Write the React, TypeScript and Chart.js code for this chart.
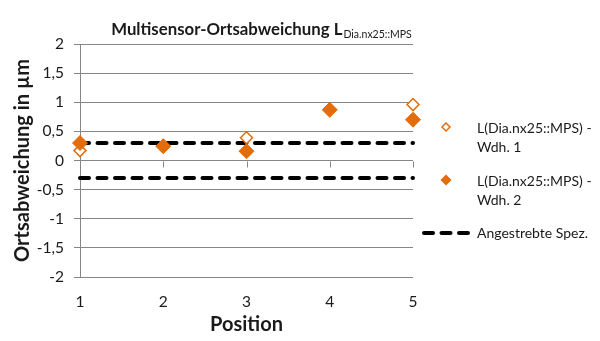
import React, { useEffect, useRef } from "react";
import { Chart, registerables } from "chart.js";
Chart.register(...registerables);

const positions = [1, 2, 3, 4, 5];
const wdh1 = [0.17, 0.25, 0.39, 0.87, 0.96];
const wdh2 = [0.3, 0.245, 0.16, 0.87, 0.7];
const specX = [1, 5];
const specUpper = [0.3, 0.3];
const specLower = [-0.3, -0.3];
const titleMain = "Multisensor-Ortsabweichung L";
const titleSub = "Dia.nx25::MPS";
const legendLabels = [
  ["L(Dia.nx25::MPS) -", "Wdh. 1"],
  ["L(Dia.nx25::MPS) -", "Wdh. 2"],
  ["Angestrebte Spez."],
];
const yTitle = "Ortsabweichung in µm";
const xTitle = "Position";

const ORANGE = "#E46C0A";
const GRID = "#868686";
const TEXT = "#1a1a1a";
const FONT = "Lato, 'Open Sans', sans-serif";

const decor = {
  id: "decor",
  afterDraw(chart: any) {
    const ctx = chart.ctx as CanvasRenderingContext2D;
    const xs = chart.scales.x;
    const ys = chart.scales.y;
    ctx.save();
    // x-axis tick marks on the zero line
    ctx.strokeStyle = GRID;
    ctx.lineWidth = 1;
    const y0 = Math.round(ys.getPixelForValue(0)) + 0.5;
    positions.forEach((p) => {
      const px = Math.round(xs.getPixelForValue(p)) + 0.5;
      ctx.beginPath();
      ctx.moveTo(px, y0);
      ctx.lineTo(px, y0 + 6);
      ctx.stroke();
    });
    // title with subscript
    ctx.fillStyle = TEXT;
    ctx.textBaseline = "alphabetic";
    ctx.textAlign = "left";
    const mainFont = `bold 16.8px ${FONT}`;
    const subFont = `10.5px ${FONT}`;
    ctx.font = mainFont;
    const wMain = ctx.measureText(titleMain).width;
    ctx.font = subFont;
    const wSub = ctx.measureText(titleSub).width;
    const cx = 261;
    const tx = cx - (wMain + wSub) / 2;
    ctx.font = mainFont;
    ctx.fillText(titleMain, tx, 35);
    ctx.font = subFont;
    ctx.fillText(titleSub, tx + wMain + 1, 38);

    // legend
    ctx.font = `14px ${FONT}`;
    ctx.textBaseline = "middle";
    const textX = 477;
    const drawDiamond = (x: number, y: number, r: number, fill: string | null) => {
      ctx.beginPath();
      ctx.moveTo(x, y - r);
      ctx.lineTo(x + r, y);
      ctx.lineTo(x, y + r);
      ctx.lineTo(x - r, y);
      ctx.closePath();
      if (fill) {
        ctx.fillStyle = fill;
        ctx.fill();
      }
      ctx.strokeStyle = ORANGE;
      ctx.lineWidth = 1.5;
      ctx.stroke();
    };
    drawDiamond(446, 127, 4, "#ffffff");
    drawDiamond(446, 180, 4.5, ORANGE);
    ctx.fillStyle = TEXT;
    ctx.fillText(legendLabels[0][0], textX, 128);
    ctx.fillText(legendLabels[0][1], textX, 147);
    ctx.fillText(legendLabels[1][0], textX, 181);
    ctx.fillText(legendLabels[1][1], textX, 200);
    ctx.fillText(legendLabels[2][0], textX, 233);
    ctx.strokeStyle = "#000";
    ctx.lineWidth = 4;
    ctx.lineCap = "round";
    ctx.setLineDash([9, 8.5]);
    ctx.beginPath();
    ctx.moveTo(424, 233);
    ctx.lineTo(468, 233);
    ctx.stroke();
    ctx.restore();
  },
};

export default function App() {
  const ref = useRef<HTMLCanvasElement | null>(null);
  useEffect(() => {
    document.body.style.margin = "0";
    const canvas = ref.current;
    if (!canvas) return;
    const chart = new Chart(canvas, {
      type: "scatter",
      data: {
        datasets: [
          {
            label: "L(Dia.nx25::MPS) - Wdh. 2",
            data: positions.map((p, i) => ({ x: p, y: wdh2[i] })),
            pointStyle: "rectRot",
            pointRadius: 7.5,
            backgroundColor: ORANGE,
            borderColor: ORANGE,
            borderWidth: 1,
            showLine: false,
            clip: false,
          },
          {
            label: "L(Dia.nx25::MPS) - Wdh. 1",
            data: positions.map((p, i) => ({ x: p, y: wdh1[i] })),
            pointStyle: "rectRot",
            pointRadius: 6,
            backgroundColor: "#ffffff",
            borderColor: ORANGE,
            borderWidth: 1.5,
            showLine: false,
            clip: false,
          },
          {
            label: "Angestrebte Spez.",
            data: specX.map((p, i) => ({ x: p, y: specUpper[i] })),
            showLine: true,
            pointRadius: 0,
            borderColor: "#000",
            borderWidth: 4,
            borderDash: [9, 8.5],
            borderCapStyle: "round",
            clip: false,
          },
          {
            label: "Angestrebte Spez. (unten)",
            data: specX.map((p, i) => ({ x: p, y: specLower[i] })),
            showLine: true,
            pointRadius: 0,
            borderColor: "#000",
            borderWidth: 4,
            borderDash: [9, 8.5],
            borderCapStyle: "round",
            clip: false,
          },
        ],
      } as any,
      options: {
        animation: false,
        responsive: false,
        maintainAspectRatio: false,
        devicePixelRatio: 1,
        layout: { padding: { left: 6, right: 187, top: 44, bottom: 0 } },
        plugins: {
          legend: { display: false },
          tooltip: { enabled: false },
          title: { display: false },
        },
        scales: {
          x: {
            type: "linear",
            min: 1,
            max: 5,
            ticks: {
              stepSize: 1,
              color: TEXT,
              font: { family: FONT, size: 15.5 },
              padding: 16,
            },
            grid: { display: false, drawTicks: false },
            border: { display: false },
            title: {
              display: true,
              text: xTitle,
              color: TEXT,
              font: { family: FONT, size: 20, weight: "bold" },
              padding: { top: 0, bottom: 4 },
            },
            afterFit: (s: any) => {
              s.height = 64;
            },
          },
          y: {
            min: -2,
            max: 2,
            ticks: {
              stepSize: 0.5,
              color: TEXT,
              font: { family: FONT, size: 15.5 },
              padding: 10,
              callback: (v: any) => String(v).replace(".", ","),
            },
            grid: { color: GRID, lineWidth: 1, tickLength: 6, drawTicks: true },
            border: { display: true, color: GRID, width: 1 },
            title: {
              display: true,
              text: yTitle,
              color: TEXT,
              font: { family: FONT, size: 20, weight: "bold" },
              padding: { top: 5, bottom: 0 },
            },
            afterFit: (s: any) => {
              s.width = 74;
            },
          },
        },
      } as any,
      plugins: [decor],
    });
    return () => chart.destroy();
  }, []);
  return (
    <div style={{ width: 600, height: 341, background: "#fff" }}>
      <canvas ref={ref} width={600} height={341} />
    </div>
  );
}
